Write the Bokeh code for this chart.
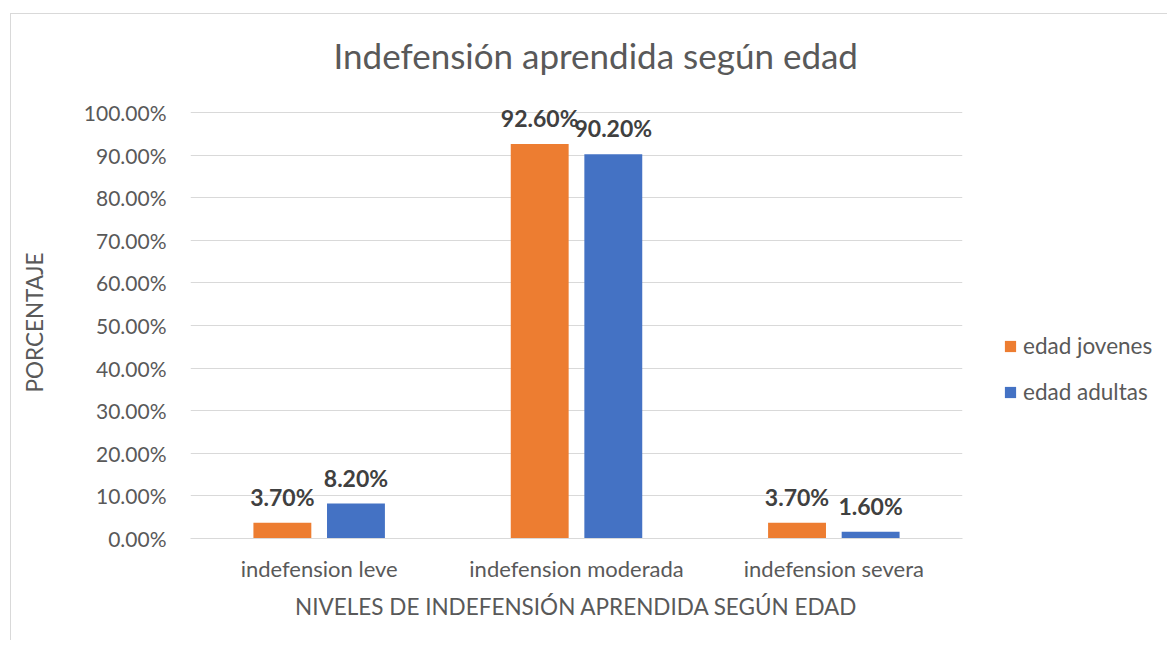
from bokeh.plotting import figure
from bokeh.models import (ColumnDataSource, FactorRange, FixedTicker, NumeralTickFormatter,
                          Legend, LegendItem)
from bokeh.transform import dodge
from bokeh.core.properties import value
from bokeh.embed import file_html
from bokeh.resources import INLINE

categories = ["indefension leve", "indefension moderada", "indefension severa"]
series_names = ["edad jovenes", "edad adultas"]
jovenes = [0.037, 0.926, 0.037]
adultas = [0.082, 0.902, 0.016]
y_ticks = [0.0, 0.1, 0.2, 0.3, 0.4, 0.5, 0.6, 0.7, 0.8, 0.9, 1.0]

FONT = "Lato"
TXT = "#595959"
ORANGE = "#ED7D31"
BLUE = "#4472C4"
GRID = "#D9D9D9"

src = ColumnDataSource(data=dict(
    cat=categories,
    jov=jovenes,
    adu=adultas,
    jov_lbl=[f"{v*100:.2f}%" for v in jovenes],
    adu_lbl=[f"{v*100:.2f}%" for v in adultas],
))

# y range runs a hair past 100% so the data labels above the tallest bar are not clipped
p = figure(frame_width=772, frame_height=432, x_range=FactorRange(*categories, range_padding=0),
           y_range=(0, 1.0141), output_backend="svg", toolbar_location=None,
           min_border_left=190, min_border_right=203, min_border_top=106, min_border_bottom=102,
           title="Indefensión aprendida según edad")
p.border_fill_color = None
# thin chart-area border (top and left edges) drawn behind the transparent canvas
p.styles = {"background": (
    "linear-gradient(#D9D9D9,#D9D9D9) 10px 13px / 1px calc(100% - 13px) no-repeat, "
    "linear-gradient(#D9D9D9,#D9D9D9) 10px 13px / calc(100% - 10px) 1px no-repeat, white")}

p.title.text_font = FONT
p.title.text_font_size = "35px"
p.title.text_font_style = "normal"
p.title.text_color = TXT
p.title.align = "left"
p.title.offset = 143
p.title.standoff = 62

OFF = 0.143
BW = 0.225
r1 = p.vbar(x=dodge("cat", -OFF, range=p.x_range), top="jov", width=BW, source=src,
            fill_color=ORANGE, line_color=None)
r2 = p.vbar(x=dodge("cat", OFF, range=p.x_range), top="adu", width=BW, source=src,
            fill_color=BLUE, line_color=None)

for col, lbl, off in (("jov", "jov_lbl", -OFF), ("adu", "adu_lbl", OFF)):
    p.text(x=dodge("cat", off, range=p.x_range), y=col, text=lbl, source=src,
           text_align="center", text_baseline="bottom", y_offset=-12,
           text_font=value(FONT), text_font_size="23px", text_font_style="bold",
           text_color="#404040")

p.outline_line_color = None
p.xgrid.grid_line_color = None
p.ygrid.grid_line_color = GRID
p.ygrid.grid_line_width = 1

p.yaxis.ticker = FixedTicker(ticks=y_ticks)
p.yaxis.formatter = NumeralTickFormatter(format="0.00%")
p.yaxis.axis_line_color = None
p.yaxis.major_tick_line_color = None
p.yaxis.minor_tick_line_color = None
p.yaxis.major_tick_out = 0
p.yaxis.major_label_standoff = 24
p.yaxis.major_label_text_font = FONT
p.yaxis.major_label_text_font_size = "21px"
p.yaxis.major_label_text_color = TXT
p.yaxis.axis_label = "PORCENTAJE"
p.yaxis.axis_label_text_font = FONT
p.yaxis.axis_label_text_font_size = "22.5px"
p.yaxis.axis_label_text_font_style = "normal"
p.yaxis.axis_label_text_color = TXT
p.yaxis.axis_label_standoff = 33

p.xaxis.axis_line_color = GRID
p.xaxis.major_tick_line_color = None
p.xaxis.major_tick_out = 0
p.xaxis.major_label_standoff = 16
p.xaxis.major_label_text_font = FONT
p.xaxis.major_label_text_font_size = "22px"
p.xaxis.major_label_text_color = TXT
p.xaxis.axis_label = "NIVELES DE INDEFENSIÓN APRENDIDA SEGÚN EDAD"
p.xaxis.axis_label_text_font = FONT
p.xaxis.axis_label_text_font_size = "22.5px"
p.xaxis.axis_label_text_font_style = "normal"
p.xaxis.axis_label_text_color = TXT
p.xaxis.axis_label_standoff = 8

legend = Legend(items=[LegendItem(label=series_names[0], renderers=[r1]),
                       LegendItem(label=series_names[1], renderers=[r2])],
                location=(41, 133), padding=0, margin=0, spacing=19,
                glyph_width=14, glyph_height=14, label_standoff=6,
                label_text_font=FONT, label_text_font_size="22.5px", label_text_color=TXT,
                border_line_color=None, background_fill_alpha=0)
p.add_layout(legend, "right")

open("out.html", "w").write(file_html(p, INLINE))
